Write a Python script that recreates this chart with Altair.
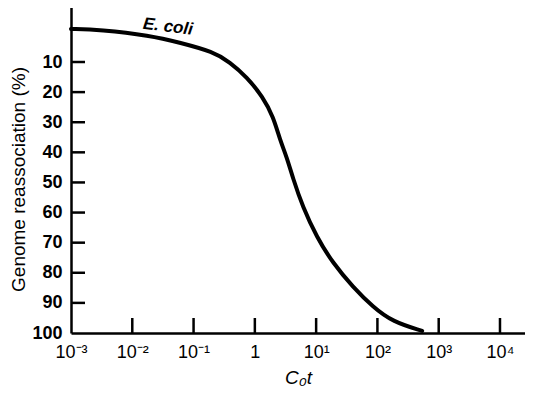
import altair as alt
import pandas as pd

# Curve: C0t (log axis) vs genome reassociation (%)
cot_values = [0.001, 0.00295, 0.0195, 0.0603, 0.209, 0.389, 0.741, 1.35, 2.0,
              2.57, 3.31, 4.17, 6.03, 10.2, 18.6, 39.8, 85.1, 178, 537]
reassoc_values = [-1.0, -0.7, 1.2, 3.6, 6.6, 10.0, 15.0, 21.6, 28.2,
                  35.9, 41.5, 48.5, 58.1, 68.1, 76.7, 84.7, 91.4, 96.3, 99.3]

x_tick_values = [0.001, 0.01, 0.1, 1, 10, 100, 1000, 10000]
x_tick_labels = ["10⁻³", "10⁻²", "10⁻¹", "1", "10¹", "10²", "10³", "10⁴"]
y_tick_values = [10, 20, 30, 40, 50, 60, 70, 80, 90, 100]

x_domain = [0.001, 25600]
y_domain = [-8.6, 100]

species_label = ["E. coli"]
label_cot = [0.0382]
label_v = [-1.7]

W, H = 454, 327
FONT = "Liberation Sans"

curve = pd.DataFrame({"cot": cot_values, "v": reassoc_values})
xt = pd.DataFrame({"cot": x_tick_values[1:]})
yt = pd.DataFrame({"v": [y_domain[0]] + y_tick_values[:-1]})
lab = pd.DataFrame({"cot": label_cot, "v": label_v, "label": species_label})

label_list = "[" + ",".join("'" + s + "'" for s in x_tick_labels) + "]"

x_enc = alt.X(
    "cot:Q",
    scale=alt.Scale(type="log", domain=x_domain, nice=False),
    axis=alt.Axis(
        values=x_tick_values,
        labelExpr=label_list + "[round(log(datum.value)/LN10)+3]",
        ticks=False, tickSize=0, grid=False,
        domainColor="black", domainWidth=2.5,
        labelFont=FONT, labelFontSize=18, labelColor="black",
        labelPadding=10, labelOverlap=False, labelFlush=False, labelBound=False,
        title="C₀t", titleFont=FONT, titleFontSize=19, titleFontStyle="italic",
        titleFontWeight="normal", titleColor="black",
        titleY=50, titleBaseline="alphabetic",
    ),
)
y_enc = alt.Y(
    "v:Q",
    scale=alt.Scale(domain=y_domain, reverse=True, nice=False, zero=False),
    axis=alt.Axis(
        values=y_tick_values, format="d",
        ticks=False, tickSize=0, grid=False,
        domainColor="black", domainWidth=2.5,
        labelFont=FONT, labelFontSize=18, labelFontWeight="bold", labelColor="black",
        labelPadding=9, labelOverlap=False, labelFlush=False, labelBound=False,
        title="Genome reassociation (%)", titleFont=FONT, titleFontSize=19,
        titleFontWeight="normal", titleColor="black",
        titleX=-53, titleY=173, titleAlign="center", titleBaseline="middle",
    ),
)

line = alt.Chart(curve).mark_line(
    color="black", strokeWidth=4, interpolate="basis", strokeCap="round"
).encode(x=x_enc, y=y_enc)

xticks = alt.Chart(xt).mark_rule(color="black", strokeWidth=2.5).encode(
    x=x_enc, y=alt.value(H), y2=alt.value(H - 15)
)
yticks = alt.Chart(yt).mark_rule(color="black", strokeWidth=2.5).encode(
    y=y_enc, x=alt.value(0), x2=alt.value(14)
)
text = alt.Chart(lab).mark_text(
    font=FONT, fontSize=17, fontStyle="italic", fontWeight="bold",
    color="black", angle=7, align="center", baseline="middle"
).encode(x=x_enc, y=y_enc, text="label:N")

chart = alt.layer(line, xticks, yticks, text).properties(
    width=W, height=H,
    autosize=alt.AutoSizeParams(type="none"),
    padding={"left": 63, "top": -2, "right": 0, "bottom": 55},
).configure_view(stroke=None)

chart.save("out.html", embed_options={"renderer": "svg", "actions": False})
